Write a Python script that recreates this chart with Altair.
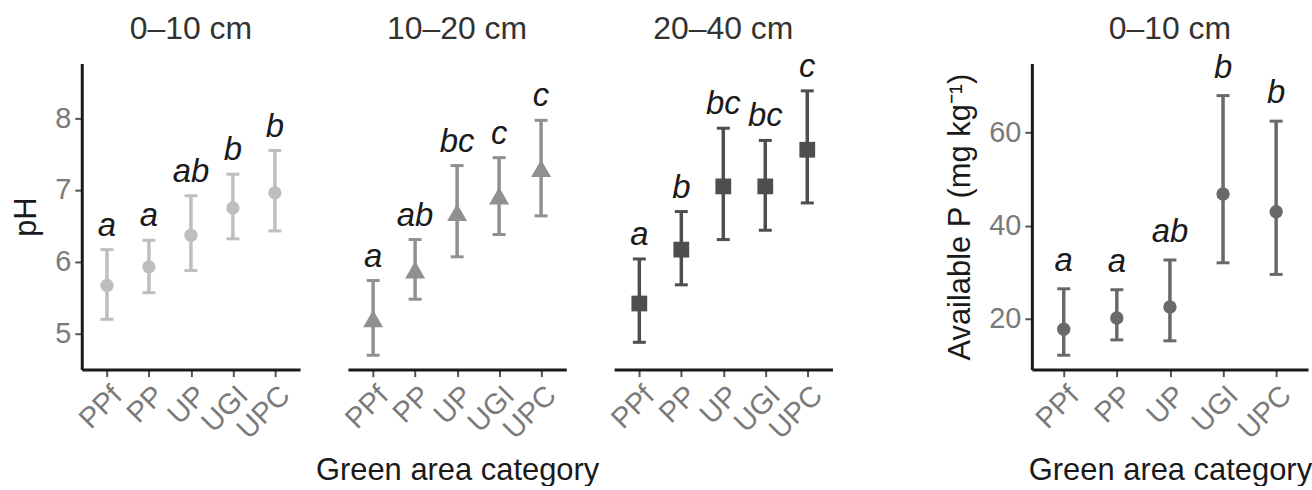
import altair as alt
import pandas as pd

categories = ["PPf", "PP", "UP", "UGI", "UPC"]

ph_0_10_mean = [5.67, 5.93, 6.37, 6.75, 6.96]
ph_0_10_low = [5.20, 5.57, 5.88, 6.32, 6.43]
ph_0_10_high = [6.17, 6.30, 6.92, 7.22, 7.55]
ph_0_10_letters = ["a", "a", "ab", "b", "b"]

ph_10_20_mean = [5.21, 5.89, 6.69, 6.92, 7.30]
ph_10_20_low = [4.70, 5.48, 6.07, 6.38, 6.64]
ph_10_20_high = [5.74, 6.31, 7.34, 7.45, 7.97]
ph_10_20_letters = ["a", "ab", "bc", "c", "c"]

ph_20_40_mean = [5.42, 6.17, 7.05, 7.05, 7.56]
ph_20_40_low = [4.88, 5.68, 6.31, 6.44, 6.82]
ph_20_40_high = [6.04, 6.70, 7.86, 7.69, 8.38]
ph_20_40_letters = ["a", "b", "bc", "bc", "c"]

p_0_10_mean = [17.7, 20.1, 22.5, 46.8, 43.0]
p_0_10_low = [12.1, 15.4, 15.2, 32.0, 29.5]
p_0_10_high = [26.4, 26.2, 32.6, 68.0, 62.5]
p_0_10_letters = ["a", "a", "ab", "b", "b"]

panel_titles = ["0–10 cm", "10–20 cm", "20–40 cm", "0–10 cm"]

FONT = "Liberation Sans"
LABEL_GRAY = "#7a7a7a"
W, H = 219, 307
LBL = 29
TTL = 32
AXT = 31


def panel(means, lows, highs, letters, color, shape, size, title, domain, ticks,
          show_y, ytitle, xtitle, dy, width):
    df = pd.DataFrame({"cat": categories, "mean": means, "low": lows,
                       "high": highs, "letter": letters})
    xaxis_kw = dict(labelAngle=-45, labelAlign="right", labelBaseline="top",
                    labelFontSize=LBL, labelColor=LABEL_GRAY, labelFont=FONT,
                    labelPadding=4, tickColor="#555555", tickWidth=2, tickSize=7,
                    domainColor="#1a1a1a", domainWidth=3, grid=False,
                    titleFontSize=AXT, titleFont=FONT, titleColor="#1a1a1a",
                    titleFontWeight="normal", titlePadding=11)
    xaxis_kw["title"] = xtitle if xtitle else None
    x = alt.X("cat:N", sort=categories,
              scale=alt.Scale(type="point", padding=0.6),
              axis=alt.Axis(**xaxis_kw))
    yscale = alt.Scale(domain=domain, nice=False, zero=False)
    if show_y:
        yaxis = alt.Axis(values=ticks, format="d", title=ytitle, labelFontSize=LBL,
                         labelColor=LABEL_GRAY, labelFont=FONT, labelPadding=4,
                         tickColor="#555555", tickWidth=2, tickSize=7,
                         domainColor="#1a1a1a", domainWidth=3, grid=False,
                         titleFontSize=AXT, titleFont=FONT, titleColor="#1a1a1a",
                         titleFontWeight="normal", titlePadding=12)
    else:
        yaxis = None
    base = alt.Chart(df)
    rule = base.mark_rule(color=color, strokeWidth=3.5).encode(
        x=x, y=alt.Y("low:Q", scale=yscale, axis=yaxis), y2="high:Q")
    cap_lo = base.mark_tick(color=color, size=13, thickness=3, opacity=1).encode(
        x=x, y=alt.Y("low:Q", scale=yscale))
    cap_hi = base.mark_tick(color=color, size=13, thickness=3, opacity=1).encode(
        x=x, y=alt.Y("high:Q", scale=yscale))
    pts = base.mark_point(filled=True, shape=shape, size=size, color=color,
                          opacity=1).encode(x=x, y=alt.Y("mean:Q", scale=yscale))
    txt = base.mark_text(font=FONT, fontStyle="italic", fontSize=33,
                         color="#1a1a1a", baseline="alphabetic", dy=dy).encode(
        x=x, y=alt.Y("high:Q", scale=yscale), text="letter:N")
    ttl = alt.Chart(pd.DataFrame({"t": [title]})).mark_text(
        font=FONT, fontSize=TTL, color="#333333", baseline="middle", align="center"
    ).encode(text="t:N", x=alt.value(width / 2), y=alt.value(-35))
    return alt.layer(rule, cap_lo, cap_hi, pts, txt, ttl).properties(
        width=width, height=H)


ph_dom = [4.5, 8.76]
p1 = panel(ph_0_10_mean, ph_0_10_low, ph_0_10_high, ph_0_10_letters, "#bebec1",
           "circle", 180, panel_titles[0], ph_dom, [5, 6, 7, 8], True, "pH", None, -14, W)
p2 = panel(ph_10_20_mean, ph_10_20_low, ph_10_20_high, ph_10_20_letters, "#909093",
           "triangle-up", 400, panel_titles[1], ph_dom, [5, 6, 7, 8], False, None,
           "Green area category", -14, W)
p3 = panel(ph_20_40_mean, ph_20_40_low, ph_20_40_high, ph_20_40_letters, "#4e4e51",
           "square", 250, panel_titles[2], ph_dom, [5, 6, 7, 8], False, None, None, -14, W)
p4 = panel(p_0_10_mean, p_0_10_low, p_0_10_high, p_0_10_letters, "#69696c",
           "circle", 180, panel_titles[3], [9.0, 74.9], [20, 40, 60], True,
           "Available P (mg kg⁻¹)", "Green area category", -18, 277)

spacer = alt.Chart(pd.DataFrame({"t": [""]})).mark_text().encode(
    text="t:N").properties(width=104, height=H)

chart = alt.hconcat(p1, p2, p3, spacer, p4, spacing=48, bounds="flush").properties(
    padding={"left": 10, "top": 12, "right": 0, "bottom": 0}
).configure_view(stroke=None)

chart.save("out.html", embed_options={"renderer": "svg", "actions": False})
